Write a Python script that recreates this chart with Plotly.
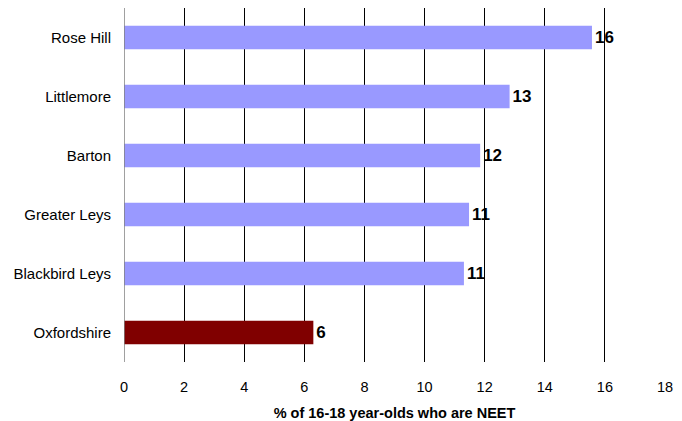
import plotly.graph_objects as go

areas = ["Rose Hill", "Littlemore", "Barton", "Greater Leys", "Blackbird Leys", "Oxfordshire"]
neet_pct = [15.57, 12.83, 11.85, 11.48, 11.31, 6.3]
labels = ["16", "13", "12", "11", "11", "6"]
colors = ["#9999FF", "#9999FF", "#9999FF", "#9999FF", "#9999FF", "#800000"]
x_ticks = [0, 2, 4, 6, 8, 10, 12, 14, 16, 18]

fig = go.Figure(go.Bar(
    x=neet_pct, y=areas, orientation="h",
    marker=dict(color=colors, line=dict(width=0)),
    text=labels, textposition="outside", cliponaxis=False,
    textfont=dict(family="Liberation Sans, Arial", size=17, color="black"),
    texttemplate="<b>%{text}</b>",
    hoverinfo="skip",
))

fig.update_layout(
    width=682, height=421,
    margin=dict(l=124, r=17, t=8, b=59),
    paper_bgcolor="white", plot_bgcolor="white",
    bargap=0.6, showlegend=False,
    font=dict(family="Liberation Sans, Arial", size=15, color="black"),
    xaxis=dict(
        range=[0, 18], tickvals=x_ticks, showgrid=True, gridcolor="black", gridwidth=1,
        zeroline=False, showline=False, ticks="", ticklabelstandoff=14,
        tickfont=dict(size=14.5), automargin=False,
        title=dict(text="<b>% of 16-18 year-olds who are NEET</b>", font=dict(size=14.5), standoff=15),
        fixedrange=True,
    ),
    yaxis=dict(
        categoryorder="array", categoryarray=areas[::-1],
        showgrid=False, zeroline=False, showline=False, ticks="",
        ticklabelstandoff=12, tickfont=dict(size=15), fixedrange=True,
    ),
)
fig.add_shape(type="line", xref="x", yref="paper", x0=0, x1=0, y0=0, y1=1,
              line=dict(color="#808080", width=1.5), layer="above")

fig.write_html("out.html", config={"displayModeBar": False},
               post_script="document.body.style.margin='0';document.body.style.overflow='hidden';")
